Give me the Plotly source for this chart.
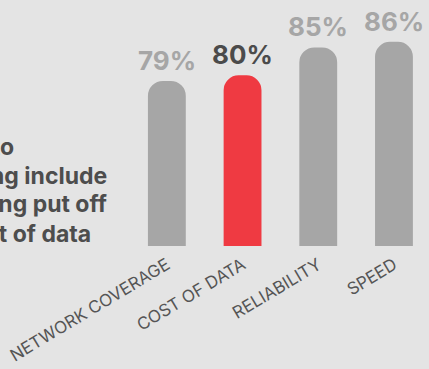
import plotly.graph_objects as go

categories = ["NETWORK COVERAGE", "COST OF DATA", "RELIABILITY", "SPEED"]
values = [79, 80, 85, 86]
highlight = "COST OF DATA"
caption_lines = [
    "The top reasons to",
    "consider switching include",
    "those being put off",
    "by the cost of data",
]

W, H = 429, 369
ML, MR, MT, MB = 129, 0, 0, 123
PW, PH = W - ML - MR, H - MT - MB

GRAY = "#a6a6a6"
RED = "#ef3a42"
DARK = "#4b4b4b"
BG = "#e4e4e4"
FONT = "Inter"

colors = [RED if c == highlight else GRAY for c in categories]

fig = go.Figure(
    go.Bar(
        x=categories,
        y=values,
        marker=dict(color=colors, line=dict(width=0)),
        hoverinfo="skip",
    )
)

annotations = []
for c, v in zip(categories, values):
    annotations.append(
        dict(
            x=c, y=v, xref="x", yref="y",
            text=f"<b>{v}%</b>",
            showarrow=False, yanchor="bottom", yshift=3,
            font=dict(family=FONT, size=26, color=DARK if c == highlight else GRAY),
        )
    )

# caption lines: right edge px and box-bottom px
cap_right = [16, 109, 109, 93]
cap_bottom = [163, 192, 220, 250]
for line, rx, by in zip(caption_lines, cap_right, cap_bottom):
    annotations.append(
        dict(
            x=(rx - ML) / PW, y=(MT + PH - by) / PH, xref="paper", yref="paper",
            text=f"<b>{line}</b>", showarrow=False,
            xanchor="right", yanchor="bottom", align="left",
            font=dict(family=FONT, size=23, color="#4d4d4d"),
        )
    )

fig.update_layout(
    width=W, height=H,
    margin=dict(l=ML, r=MR, t=MT, b=MB, pad=0),
    paper_bgcolor=BG, plot_bgcolor=BG,
    bargap=0.5,
    barcornerradius=15,
    showlegend=False,
    annotations=annotations,
    xaxis=dict(
        range=[-0.5, -0.5 + PW / 75.7],
        showgrid=False, zeroline=False, showline=False, ticks="",
        tickangle=-31,
        ticklabelstandoff=5,
        tickfont=dict(family=FONT, size=17, color="#555555"),
        fixedrange=True,
    ),
    yaxis=dict(
        range=[49.4, 93.5], visible=False, fixedrange=True,
    ),
)

fig.write_html("out.html", config={"displayModeBar": False})
